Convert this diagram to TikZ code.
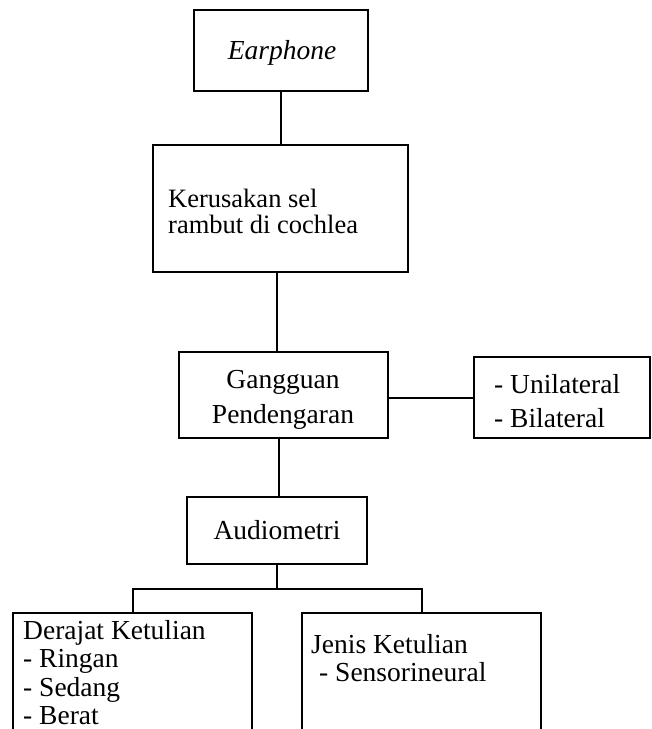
\documentclass[tikz,border=0pt]{standalone}
\usepackage{fontspec}
\setmainfont{Liberation Serif}
\begin{document}
\begin{tikzpicture}[x=1pt,y=-1pt,
  box/.style={draw, line width=2pt, rectangle, inner sep=0pt},
  txt/.style={inner sep=0pt, font=\fontsize{27.5}{30}\selectfont},
  txtl/.style={txt, anchor=base west},
  txtc/.style={txt, anchor=base},
  conn/.style={line width=2pt}]
\useasboundingbox (0,0) rectangle (652,729);
\clip (0,0) rectangle (652,729);
\fill[white] (0,0) rectangle (652,729);
% boxes
\node[box, minimum width=174pt, minimum height=81pt] (ear) at (281,50.5) {};
\node[box, minimum width=255pt, minimum height=127pt] (ker) at (280.5,208.5) {};
\node[box, minimum width=209pt, minimum height=86pt] (gang) at (283.5,395) {};
\node[box, minimum width=176pt, minimum height=81pt] (uni) at (562,397.5) {};
\node[box, minimum width=180pt, minimum height=67pt] (aud) at (277,530.5) {};
\node[box, minimum width=239pt, minimum height=160pt] (der) at (132.5,693) {};
\node[box, minimum width=239pt, minimum height=160pt] (jen) at (421.5,693) {};
% texts
\node[txtc] (tear) at (282,59) {\itshape Earphone};
\node[txtl, font=\fontsize{26.5}{30}\selectfont] (tker1) at (168,207) {Kerusakan sel};
\node[txtl, font=\fontsize{26.5}{30}\selectfont] (tker2) at (168,233) {rambut di cochlea};
\node[txtc] (tgang1) at (283,388) {Gangguan};
\node[txtc] (tgang2) at (283,423) {Pendengaran};
\node[txtl] (tuni1) at (494,393) {- Unilateral};
\node[txtl] (tuni2) at (494,427) {- Bilateral};
\node[txtc] (taud) at (277,539) {Audiometri};
\node[txtl] (tder1) at (23,639) {Derajat Ketulian};
\node[txtl] (tder2) at (23,667) {- Ringan};
\node[txtl] (tder3) at (23,696) {- Sedang};
\node[txtl] (tder4) at (23,724) {- Berat};
\node[txtl] (tjen1) at (311,653) {Jenis Ketulian};
\node[txtl] (tjen2) at (319,681) {- Sensorineural};
% connectors
\draw[conn] (ear.south) -- (ear.south |- ker.north);
\draw[conn] ([xshift=-3.5pt]ker.south) -- ([xshift=-3.5pt]ker.south |- gang.north);
\draw[conn] (uni.west -| gang.east) -- (uni.west);
\draw[conn] ([xshift=-4.5pt]gang.south) -- ([xshift=-4.5pt]gang.south |- aud.north);
\coordinate (bus) at (277,589);
\draw[conn] (aud.south) -- (bus);
\draw[conn] (der.north) |- (bus) -| (jen.north);
\end{tikzpicture}
\end{document}
